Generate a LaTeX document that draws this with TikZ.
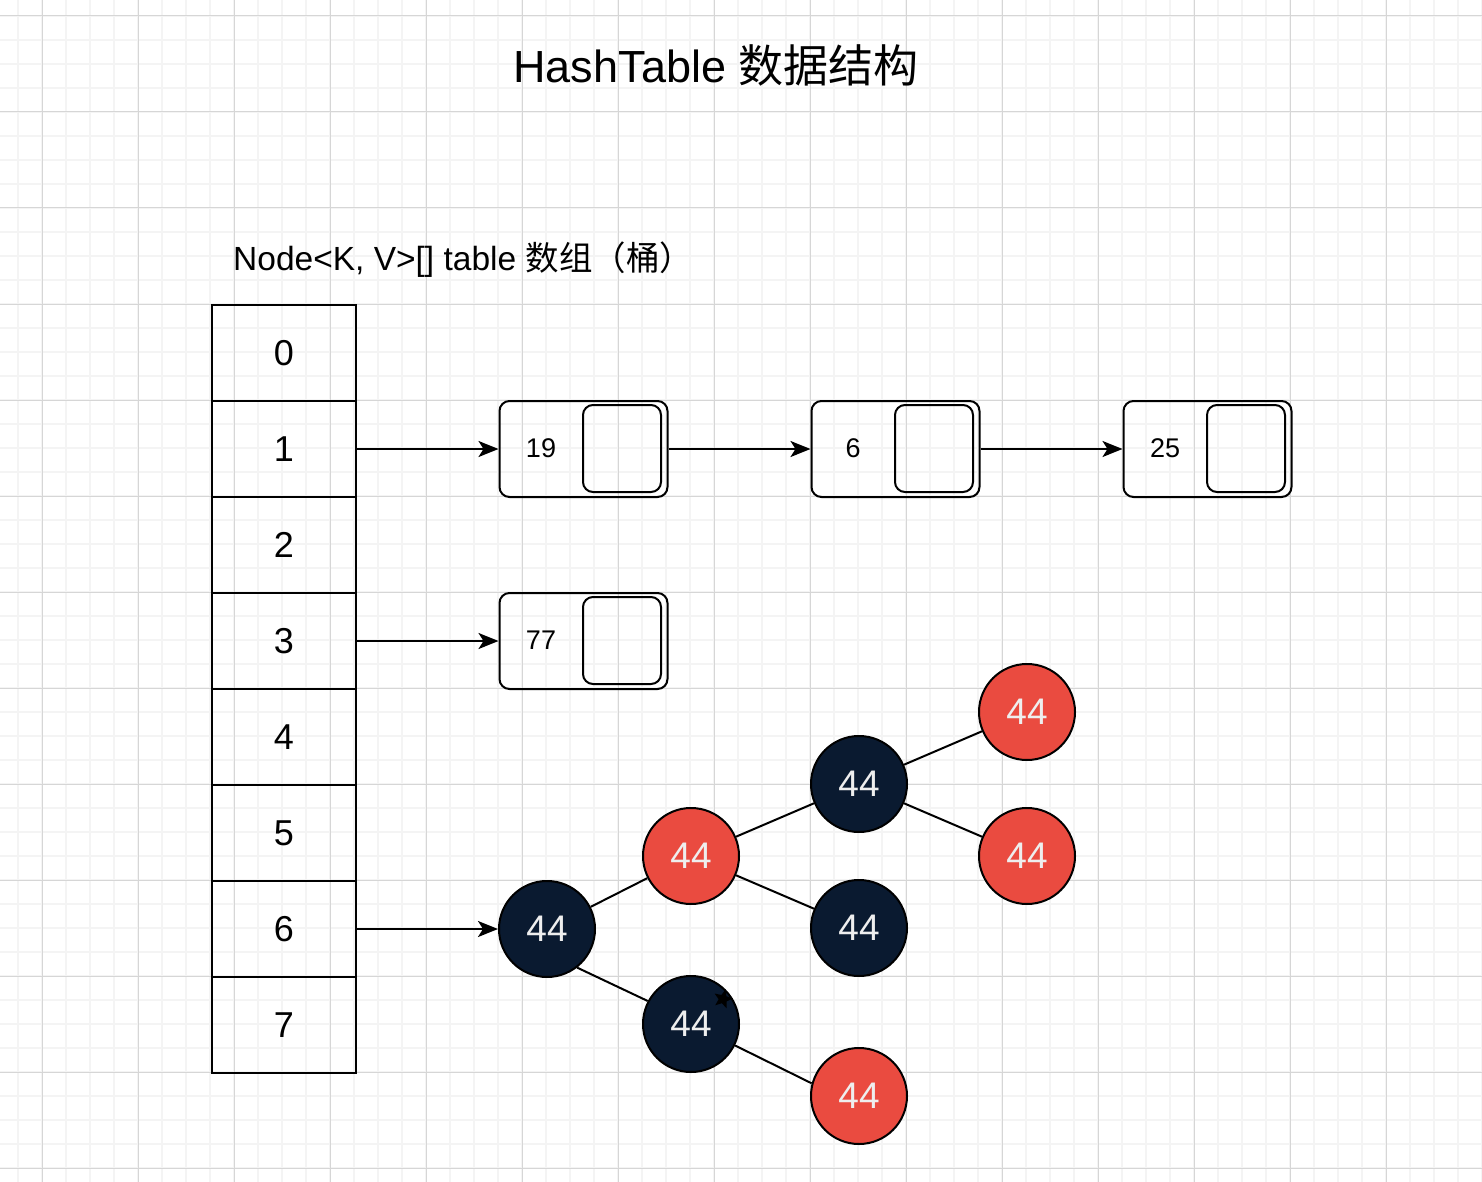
\documentclass[tikz,border=0pt]{standalone}
\usepackage{fontspec}
\setmainfont{Liberation Sans}
\newfontfamily\cjk{Noto Sans CJK SC}
\usetikzlibrary{arrows.meta,shapes.geometric}
\definecolor{gridminor}{HTML}{F4F4F4}
\definecolor{gridmajor}{HTML}{D6D6D6}
\definecolor{rbred}{HTML}{EA4B40}
\definecolor{rbblack}{HTML}{0A1A30}
\definecolor{rbtext}{HTML}{EEEEEE}
\begin{document}
\begin{tikzpicture}[x=1pt,y=-1pt,
  cell/.style={draw, line width=2pt, minimum width=144pt, minimum height=96pt, inner sep=0pt,
    font=\fontsize{36}{40}\selectfont},
  listbox/.style={draw, line width=2pt, rounded corners=10pt, minimum width=168pt, minimum height=96pt, inner sep=0pt},
  listptr/.style={draw, line width=2pt, rounded corners=10pt, minimum width=78pt, minimum height=87pt, inner sep=0pt},
  listval/.style={inner sep=0pt, font=\fontsize{27}{30}\selectfont},
  arr/.style={line width=2pt, -{Stealth[length=20pt,width=16pt,inset=5pt]}},
  tline/.style={line width=2pt},
  rbn/.style={circle, draw, line width=2pt, minimum size=96pt, inner sep=0pt, text=rbtext,
    font=\fontsize{37}{40}\selectfont},
]
\useasboundingbox (0,0) rectangle (1482,1182);
\fill[white] (0,0) rectangle (1482,1182);
\foreach \x in {18,42,...,1482} \draw[gridminor, line width=1.2pt] (\x,0) -- (\x,1182);
\foreach \y in {16,40,...,1182} \draw[gridminor, line width=1.2pt] (0,\y) -- (1482,\y);
\foreach \x in {42,138,...,1482} \draw[gridmajor, line width=1pt] (\x,0) -- (\x,1182);
\foreach \y in {16,112,...,1182} \draw[gridmajor, line width=1pt] (0,\y) -- (1482,\y);

% titles
\node[anchor=base, inner sep=0pt, font=\fontsize{45}{50}\selectfont] (title) at (716,83) {HashTable {\cjk 数据结构}};
\node[anchor=base west, inner sep=0pt, font=\fontsize{33.5}{36}\selectfont] (lbl) at (233,270) {Node<K, V>[] table {\cjk 数组（桶）}};

% table
\node[cell] (c0) at (284,353) {0};
\node[cell] (c1) at (284,449) {1};
\node[cell] (c2) at (284,545) {2};
\node[cell] (c3) at (284,641) {3};
\node[cell] (c4) at (284,737) {4};
\node[cell] (c5) at (284,833) {5};
\node[cell] (c6) at (284,929) {6};
\node[cell] (c7) at (284,1025) {7};

% linked list nodes
\foreach \nm/\cx/\cy/\v in {n19/583.5/449/19, n6/895.5/449/6, n25/1207.5/449/25, n77/583.5/641/77}{
  \node[listbox] (\nm) at (\cx,\cy) {};
  \node[listptr] (\nm p) at ([xshift=38.5pt,yshift=0.5pt]\nm.center) {};
  \node[listval] (\nm v) at ([xshift=-42.5pt,yshift=1pt]\nm.center) {\v};
}
\draw[arr] (c1.east) -- (n19.west);
\draw[arr] (n19.east) -- (n6.west);
\draw[arr] (n6.east) -- (n25.west);
\draw[arr] (c3.east) -- (n77.west);

% red-black tree
\node[rbn, fill=rbblack] (A) at (547,929) {44};
\node[rbn, fill=rbred] (B) at (691,856) {44};
\node[rbn, fill=rbblack] (C) at (859,784) {44};
\node[rbn, fill=rbred] (D) at (1027,712) {44};
\node[rbn, fill=rbred] (E) at (1027,856) {44};
\node[rbn, fill=rbblack] (F) at (859,928) {44};
\node[rbn, fill=rbblack] (G) at (691,1024) {44};
\node[rbn, fill=rbred] (H) at (859,1096) {44};

\draw[arr] (c6.east) -- (A.west);
\draw[tline] (A) -- (B);
\draw[tline] (B) -- (C);
\draw[tline] (B) -- (F);
\draw[tline] (C) -- (D);
\draw[tline] (C) -- (E);
\draw[tline] (A.-52) -- (G.152);
\draw[tline] (G.-26) -- (H.165);
\node[star, star points=5, star point ratio=2.3, fill=black, minimum size=20pt, inner sep=0pt, rotate=-15] (st) at (723,999) {};
\end{tikzpicture}
\end{document}
